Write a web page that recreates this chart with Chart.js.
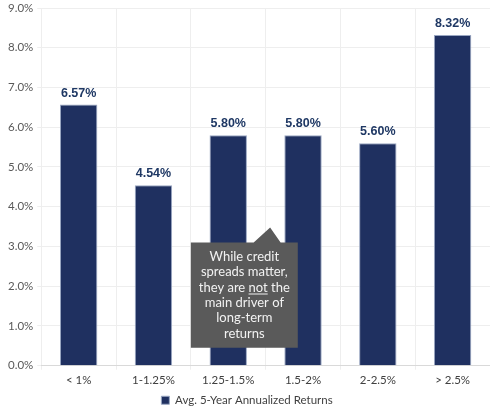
<!DOCTYPE html>
<html>
<head>
<meta charset="utf-8">
<script src="https://cdn.jsdelivr.net/npm/chart.js@4.4.1/dist/chart.umd.min.js"></script>
<style>
  html, body { margin: 0; padding: 0; background: #fff; }
  #wrap { width: 490px; height: 411px; position: relative; }
</style>
</head>
<body>
<div id="wrap"><canvas id="spreadChart"></canvas></div>
<script>
// 数据
const categories = ['< 1%', '1-1.25%', '1.25-1.5%', '1.5-2%', '2-2.5%', '> 2.5%'];
const avgReturns = [6.57, 4.54, 5.80, 5.80, 5.60, 8.32];
const seriesName = 'Avg. 5-Year Annualized Returns';
const noteLines = ['While credit', 'spreads matter,', 'they are not the', 'main driver of', 'long-term', 'returns'];

const navy = '#1f3060';
const labelFont = '"Lato", "Open Sans", sans-serif';

// 柱顶数值标签
const valueLabels = {
    id: 'valueLabels',
    afterDatasetsDraw(chart) {
        const ctx = chart.ctx;
        const meta = chart.getDatasetMeta(0);
        ctx.save();
        ctx.font = 'bold 12.5px "Liberation Sans", Arial, sans-serif';
        ctx.fillStyle = '#1f3864';
        ctx.textAlign = 'center';
        ctx.textBaseline = 'bottom';
        meta.data.forEach(function(bar, i) {
            ctx.fillText(avgReturns[i].toFixed(2) + '%', bar.x, bar.y - 5);
        });
        ctx.restore();
    }
};

// 注释框（按坐标轴换算位置）
const noteBox = {
    id: 'noteBox',
    afterDraw(chart) {
        const x = chart.scales.x, y = chart.scales.y;
        const ctx = chart.ctx;
        const left = x.getPixelForValue(1.5), right = x.getPixelForValue(2.93);
        const top = y.getPixelForValue(3.1), bottom = y.getPixelForValue(0.45);
        const tipX = x.getPixelForValue(2.56), tipY = y.getPixelForValue(3.48);
        const baseL = x.getPixelForValue(2.34), baseR = x.getPixelForValue(2.7);

        ctx.save();
        ctx.fillStyle = '#5a5a5a';
        ctx.beginPath();
        ctx.moveTo(left, top);
        ctx.lineTo(baseL, top);
        ctx.lineTo(tipX, tipY);
        ctx.lineTo(baseR, top);
        ctx.lineTo(right, top);
        ctx.lineTo(right, bottom);
        ctx.lineTo(left, bottom);
        ctx.closePath();
        ctx.fill();

        ctx.fillStyle = '#f2f2f2';
        ctx.strokeStyle = '#f2f2f2';
        ctx.font = '13px ' + labelFont;
        ctx.textAlign = 'center';
        ctx.textBaseline = 'middle';
        const cx = (left + right) / 2;
        const lh = 15.3;
        const startY = (top + bottom) / 2 - lh * (noteLines.length - 1) / 2;
        noteLines.forEach(function(line, i) {
            const ly = startY + i * lh;
            ctx.fillText(line, cx, ly);
            if (line.indexOf(' not ') >= 0) {
                // 给 "not" 加下划线
                const full = ctx.measureText(line).width;
                const pre = ctx.measureText('they are ').width;
                const w = ctx.measureText('not').width;
                const sx = cx - full / 2 + pre;
                ctx.lineWidth = 1;
                ctx.beginPath();
                ctx.moveTo(sx, ly + 6.5);
                ctx.lineTo(sx + w, ly + 6.5);
                ctx.stroke();
            }
        });
        ctx.restore();
    }
};

new Chart(document.getElementById('spreadChart'), {
    type: 'bar',
    data: {
        labels: categories,
        datasets: [{
            label: seriesName,
            data: avgReturns,
            backgroundColor: navy,
            borderColor: '#9aa7c2',
            borderWidth: 1,
            barPercentage: 0.5,
            categoryPercentage: 1.0
        }]
    },
    options: {
        responsive: true,
        maintainAspectRatio: false,
        animation: false,
        layout: { padding: { top: 0, right: 0, left: 4, bottom: -5 } },
        plugins: {
            legend: {
                position: 'bottom',
                labels: {
                    boxWidth: 8,
                    boxHeight: 8,
                    padding: 3,
                    color: '#404040',
                    font: { family: labelFont, size: 11.5 }
                }
            },
            tooltip: { enabled: false }
        },
        scales: {
            x: {
                grid: { color: '#eeeeee', offset: true, tickLength: 4 },
                border: { color: '#d9d9d9' },
                ticks: {
                    color: '#404040',
                    padding: 4,
                    font: { family: labelFont, size: 11.5 }
                }
            },
            y: {
                min: 0,
                max: 9,
                grid: { color: '#eeeeee', tickLength: 4 },
                border: { display: false },
                afterFit: function(scale) {
                    // 让 9.0% 的顶线更贴近画布上沿
                    scale.paddingTop = 8;
                },
                ticks: {
                    stepSize: 1,
                    color: '#595959',
                    padding: 4,
                    font: { family: labelFont, size: 11.5 },
                    callback: function(value) {
                        return value.toFixed(1) + '%';
                    }
                }
            }
        }
    },
    plugins: [valueLabels, noteBox]
});
</script>
</body>
</html>
